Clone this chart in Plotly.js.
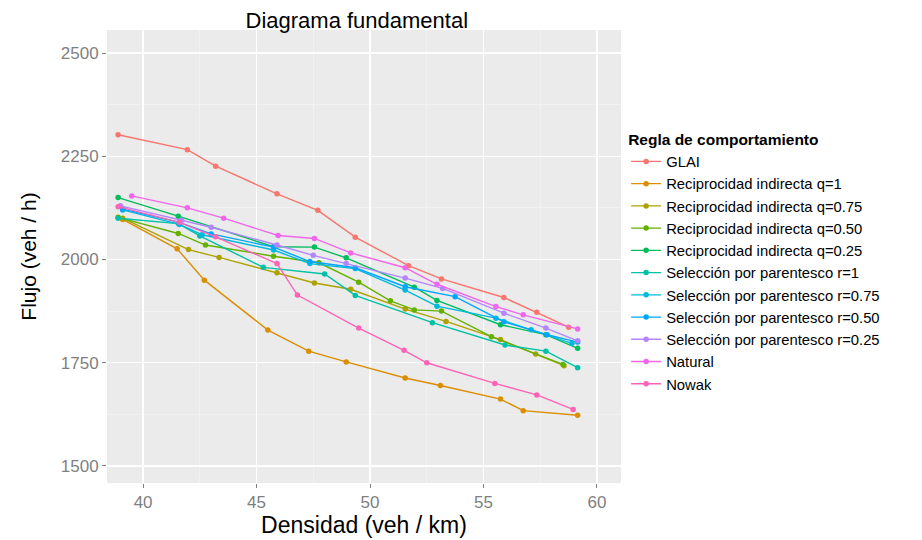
<!DOCTYPE html>
<html>
<head>
<meta charset="utf-8">
<script src="https://cdn.plot.ly/plotly-3.0.1.min.js"></script>
<style>html,body{margin:0;padding:0;background:#fff;}#chart{width:922px;height:540px;}</style>
</head>
<body>
<div id="chart"></div>
<script>
const seriesNames = ["GLAI","Reciprocidad indirecta q=1","Reciprocidad indirecta q=0.75","Reciprocidad indirecta q=0.50","Reciprocidad indirecta q=0.25","Selección por parentesco r=1","Selección por parentesco r=0.75","Selección por parentesco r=0.50","Selección por parentesco r=0.25","Natural","Nowak"];
const seriesColors = ["#F8766D","#DB8E00","#AEA200","#64B200","#00BD5C","#00C1A7","#00BADE","#00A6FF","#B385FF","#EF67EB","#FF63B6"];

const glaiX = [38.9,41.95,43.2,45.9,47.7,49.35,51.7,53.15,55.9,57.35,58.75];
const glaiY = [2302,2266,2226,2159,2119,2054,1985,1953,1908,1872,1836];
const q100X = [39.1,41.5,42.7,45.5,47.3,48.95,51.55,53.1,55.75,56.75,59.15];
const q100Y = [2097,2026,1950,1829,1778,1752,1713,1695,1662,1634,1623];
const q075X = [39.1,42.0,43.35,45.9,47.55,49.15,51.55,53.35,55.75,57.3,58.55];
const q075Y = [2100,2024,2005,1968,1943,1928,1880,1850,1806,1771,1743];
const q050X = [38.9,41.55,42.75,45.75,47.75,49.5,50.9,51.95,53.15,55.35,58.5];
const q050Y = [2102,2063,2035,2008,1992,1945,1900,1878,1875,1813,1746];
const q025X = [38.9,41.55,45.75,47.55,48.95,51.95,52.95,55.75,57.75,59.15];
const q025Y = [2150,2105,2031,2030,2004,1933,1901,1842,1818,1785];
const r100X = [38.9,41.55,42.5,45.3,48.0,49.35,52.75,55.95,57.75,59.15];
const r100Y = [2100,2087,2057,1981,1965,1913,1847,1793,1778,1738];
const r075X = [39.1,41.6,42.6,45.75,47.35,49.35,51.55,52.95,55.55,57.1,58.9];
const r075Y = [2120,2085,2060,2023,1990,1978,1926,1887,1858,1830,1797];
const r050X = [39.1,41.6,43.0,45.75,47.35,49.35,51.55,53.75,55.9,57.8,59.15];
const r050Y = [2122,2090,2062,2030,1995,1980,1934,1910,1849,1818,1800];
const r025X = [39.0,41.7,43.0,45.9,47.5,48.95,51.55,53.2,55.9,57.75,59.15];
const r025Y = [2130,2095,2078,2035,2010,1990,1955,1930,1870,1834,1803];
const naturalX = [39.5,41.95,43.55,45.95,47.55,49.15,51.55,52.95,55.55,56.75,59.15];
const naturalY = [2154,2125,2100,2058,2051,2016,1980,1940,1886,1866,1832];
const nowakX = [38.9,41.6,43.2,45.9,46.8,49.5,51.5,52.5,55.5,57.35,58.95];
const nowakY = [2128,2090,2055,1990,1914,1834,1780,1750,1700,1672,1637];

const xs = [glaiX,q100X,q075X,q050X,q025X,r100X,r075X,r050X,r025X,naturalX,nowakX];
const ys = [glaiY,q100Y,q075Y,q050Y,q025Y,r100Y,r075Y,r050Y,r025Y,naturalY,nowakY];

const xTicks = [40,45,50,55,60];
const yTicks = [1500,1750,2000,2250,2500];

const traces = seriesNames.map((n,i)=>({
  type:'scatter', mode:'lines+markers', name:n, x:xs[i], y:ys[i],
  line:{color:seriesColors[i], width:1.4},
  marker:{color:seriesColors[i], size:5.5}
}));

const font = "Liberation Sans, Arial, sans-serif";
const layout = {
  width:922, height:540,
  margin:{l:107, r:301, t:30, b:57},
  paper_bgcolor:'#fff', plot_bgcolor:'#EBEBEB',
  font:{family:font, color:'#000'},
  title:{text:'Diagrama fundamental', xref:'paper', x:0.486, xanchor:'center', yref:'container', y:0.962, yanchor:'middle', font:{size:22, color:'#000', family:font}},
  xaxis:{range:[38.41,61.06], tickvals:xTicks, ticktext:xTicks.map(String), showgrid:true, gridcolor:'#fff', gridwidth:1.4,
    minor:{dtick:2.5, tick0:37.5, showgrid:true, gridcolor:'#F5F5F5', gridwidth:0.6},
    ticks:'outside', ticklen:4, tickcolor:'#7F7F7F', tickfont:{size:17, color:'#7F7F7F', family:font},
    zeroline:false, showline:false,
    title:{text:'Densidad (veh / km)', standoff:4, font:{size:23, color:'#000', family:font}}},
  yaxis:{range:[1458.8,2555.7], tickvals:yTicks, ticktext:yTicks.map(String), showgrid:true, gridcolor:'#fff', gridwidth:1.4,
    minor:{dtick:125, tick0:1375, showgrid:true, gridcolor:'#F5F5F5', gridwidth:0.6},
    ticks:'outside', ticklen:4, tickcolor:'#7F7F7F', tickfont:{size:17, color:'#7F7F7F', family:font},
    zeroline:false, showline:false,
    title:{text:'Flujo (veh / h)', standoff:18, font:{size:21, color:'#000', family:font}}},
  legend:{x:1.01, xanchor:'left', y:0.79, yanchor:'top', bgcolor:'rgba(0,0,0,0)',
    title:{text:'<b>Regla de comportamiento</b>', font:{size:15.5, color:'#000', family:font}},
    font:{size:14.8, color:'#000', family:font}, itemwidth:30, tracegroupgap:0},
  showlegend:true
};
Plotly.newPlot('chart', traces, layout, {displayModeBar:false, staticPlot:true});
</script>
</body>
</html>
